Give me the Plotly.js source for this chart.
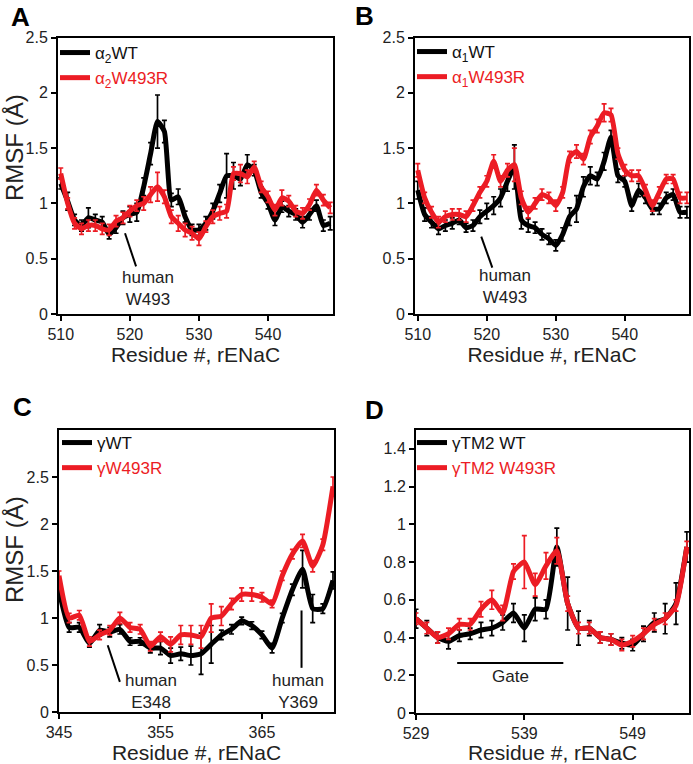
<!DOCTYPE html>
<html>
<head>
<meta charset="utf-8">
<script src="https://cdn.plot.ly/plotly-3.0.1.min.js"></script>
<style>html,body{margin:0;padding:0;background:#fff;}#chart{width:693px;height:764px;}</style>
</head>
<body>
<div id="chart"></div>
<script>
// ---------- DATA ----------
// Panel A (alpha2)
const residuesA = [510,511,512,513,514,515,516,517,518,519,520,521,522,523,524,525,526,527,528,529,530,531,532,533,534,535,536,537,538,539,540,541,542,543,544,545,546,547,548,549];
const a2WT     = [1.18,1.02,0.85,0.80,0.87,0.85,0.83,0.72,0.78,0.87,0.90,0.92,1.15,1.45,1.74,1.65,1.03,1.06,0.88,0.76,0.76,0.82,0.93,1.09,1.25,1.25,1.22,1.35,1.30,1.10,1.00,0.85,0.97,0.93,0.90,0.83,0.90,0.98,0.80,0.82];
const a2WTerr  = [0.05,0.08,0.05,0.05,0.09,0.05,0.05,0.04,0.05,0.06,0.07,0.08,0.08,0.10,0.24,0.10,0.06,0.07,0.05,0.05,0.05,0.06,0.07,0.08,0.20,0.12,0.06,0.09,0.05,0.05,0.05,0.05,0.05,0.05,0.05,0.05,0.05,0.05,0.05,0.06];
const a2Mut    = [1.27,1.00,0.82,0.77,0.80,0.80,0.77,0.76,0.84,0.87,0.93,0.98,1.00,1.08,1.15,1.06,0.88,0.82,0.76,0.73,0.68,0.79,0.88,0.91,0.93,1.27,1.27,1.24,1.33,1.15,1.06,0.94,1.05,1.02,0.93,0.91,0.99,1.12,1.03,0.96];
const a2MutErr = [0.05,0.05,0.05,0.05,0.05,0.05,0.05,0.05,0.05,0.05,0.05,0.05,0.06,0.07,0.13,0.06,0.06,0.07,0.06,0.06,0.06,0.05,0.06,0.06,0.06,0.06,0.08,0.06,0.05,0.05,0.05,0.05,0.07,0.05,0.05,0.05,0.05,0.05,0.05,0.05];

// Panel B (alpha1)
const residuesB = residuesA;
const a1WT     = [1.12,0.90,0.83,0.77,0.80,0.82,0.85,0.78,0.80,0.88,0.93,0.98,1.05,1.20,1.33,0.85,0.80,0.78,0.72,0.68,0.62,0.72,0.88,0.95,1.15,1.25,1.22,1.38,1.60,1.25,1.20,0.98,1.12,1.05,0.95,0.95,1.05,1.08,0.92,0.92];
const a1WTerr  = [0.08,0.06,0.05,0.05,0.05,0.05,0.04,0.04,0.05,0.06,0.07,0.08,0.08,0.09,0.20,0.08,0.06,0.05,0.05,0.05,0.05,0.06,0.08,0.12,0.09,0.08,0.06,0.08,0.06,0.06,0.05,0.05,0.06,0.05,0.05,0.05,0.05,0.05,0.05,0.05];
const a1Mut    = [1.30,1.05,0.92,0.83,0.88,0.90,0.90,0.88,0.98,1.10,1.20,1.38,1.20,1.30,1.35,1.05,0.92,1.00,1.08,1.05,0.98,1.10,1.42,1.47,1.40,1.60,1.70,1.82,1.80,1.45,1.30,1.25,1.25,1.12,0.98,1.10,1.22,1.22,1.05,1.05];
const a1MutErr = [0.06,0.05,0.05,0.05,0.05,0.05,0.05,0.05,0.05,0.05,0.05,0.06,0.05,0.06,0.15,0.06,0.05,0.05,0.05,0.05,0.05,0.05,0.05,0.06,0.05,0.06,0.06,0.08,0.06,0.05,0.05,0.05,0.05,0.05,0.05,0.05,0.04,0.04,0.05,0.05];

// Panel C (gamma)
const residuesC = [345,346,347,348,349,350,351,352,353,354,355,356,357,358,359,360,361,362,363,364,365,366,367,368,369,370,371,372];
const gWT      = [1.30,0.90,0.90,0.73,0.87,0.85,0.88,0.75,0.75,0.68,0.68,0.60,0.62,0.60,0.62,0.72,0.82,0.88,0.97,0.92,0.82,0.68,1.00,1.30,1.52,1.10,1.10,1.40];
const gWTerr   = [0.06,0.05,0.05,0.04,0.06,0.05,0.05,0.04,0.04,0.05,0.07,0.08,0.07,0.10,0.22,0.20,0.05,0.05,0.04,0.04,0.04,0.05,0.05,0.06,0.20,0.15,0.05,0.09];
const gMut     = [1.45,1.00,1.03,0.75,0.82,0.87,1.00,0.90,0.88,0.70,0.80,0.72,0.82,0.82,0.80,1.00,1.02,1.15,1.25,1.25,1.22,1.15,1.45,1.68,1.82,1.55,1.78,2.40];
const gMutErr  = [0.05,0.05,0.05,0.05,0.05,0.05,0.06,0.05,0.05,0.05,0.05,0.08,0.10,0.10,0.12,0.15,0.10,0.06,0.07,0.07,0.05,0.04,0.05,0.05,0.07,0.06,0.06,0.10];

// Panel D (gamma TM2)
const residuesD = [529,530,531,532,533,534,535,536,537,538,539,540,541,542,543,544,545,546,547,548,549,550,551,552,553,554];
const tmWT     = [0.50,0.45,0.40,0.38,0.41,0.42,0.44,0.45,0.48,0.53,0.45,0.55,0.55,0.88,0.58,0.45,0.45,0.40,0.39,0.37,0.36,0.42,0.48,0.50,0.58,0.88];
const tmWTerr  = [0.05,0.04,0.03,0.04,0.03,0.03,0.04,0.04,0.04,0.05,0.07,0.06,0.05,0.10,0.14,0.09,0.04,0.03,0.03,0.03,0.03,0.04,0.05,0.08,0.11,0.08];
const tmMut    = [0.50,0.45,0.40,0.42,0.47,0.47,0.55,0.60,0.53,0.75,0.80,0.68,0.78,0.86,0.58,0.45,0.45,0.40,0.39,0.36,0.38,0.42,0.47,0.50,0.57,0.88];
const tmMutErr = [0.03,0.03,0.03,0.03,0.03,0.03,0.04,0.05,0.04,0.04,0.14,0.06,0.07,0.07,0.04,0.03,0.03,0.03,0.03,0.03,0.03,0.03,0.03,0.03,0.03,0.03];

const namesA = ['α<sub>2</sub>WT', 'α<sub>2</sub>W493R'];
const namesB = ['α<sub>1</sub>WT', 'α<sub>1</sub>W493R'];
const namesC = ['γWT', 'γW493R'];
const namesD = ['γTM2 WT', 'γTM2 W493R'];

// ---------- STYLE ----------
const BLACK = '#000000', RED = '#ec1c24';
const FONT = 'Liberation Sans, Arial, Helvetica, sans-serif';
const W = 693, H = 764;
const px = v => v / W, py = v => 1 - v / H;

function series(x, y, e, color, name, xa, ya, leg) {
  return {
    type: 'scatter', mode: 'lines', x: x, y: y,
    name: name, legend: leg, xaxis: xa, yaxis: ya,
    line: {color: color, width: 5, shape: 'spline', smoothing: 0.5},
    error_y: {type: 'data', array: e, visible: true, color: color, thickness: 1.7, width: 2.5},
    hoverinfo: 'x+y'
  };
}
const redName = s => '<span style="color:' + RED + '">' + s + '</span>';

const data = [
  series(residuesA, a2WT, a2WTerr, BLACK, namesA[0], 'x', 'y', 'legend'),
  series(residuesA, a2Mut, a2MutErr, RED, redName(namesA[1]), 'x', 'y', 'legend'),
  series(residuesB, a1WT, a1WTerr, BLACK, namesB[0], 'x2', 'y2', 'legend2'),
  series(residuesB, a1Mut, a1MutErr, RED, redName(namesB[1]), 'x2', 'y2', 'legend2'),
  series(residuesC, gWT, gWTerr, BLACK, namesC[0], 'x3', 'y3', 'legend3'),
  series(residuesC, gMut, gMutErr, RED, redName(namesC[1]), 'x3', 'y3', 'legend3'),
  series(residuesD, tmWT, tmWTerr, BLACK, namesD[0], 'x4', 'y4', 'legend4'),
  series(residuesD, tmMut, tmMutErr, RED, redName(namesD[1]), 'x4', 'y4', 'legend4')
];

function xAxis(domain, range, ticks, anchor) {
  return {
    domain: domain, range: range, anchor: anchor,
    tickvals: ticks, ticks: 'outside', ticklen: 5, tickwidth: 2, tickcolor: '#000',
    showline: true, linewidth: 2, linecolor: '#000', mirror: true,
    showgrid: false, zeroline: false,
    tickfont: {family: FONT, size: 16, color: '#222'},
    title: {text: 'Residue #, rENaC', font: {family: FONT, size: 21, color: '#222'}, standoff: 3}
  };
}
function yAxis(domain, range, ticks, anchor) {
  return {
    domain: domain, range: range, anchor: anchor,
    tickvals: ticks, ticks: 'outside', ticklen: 5, tickwidth: 2, tickcolor: '#000',
    showline: true, linewidth: 2, linecolor: '#000', mirror: true,
    showgrid: false, zeroline: false,
    tickfont: {family: FONT, size: 16, color: '#222'}
  };
}

const yTicksAB = [0, 0.5, 1, 1.5, 2, 2.5];
const yTicksC = [0, 0.5, 1, 1.5, 2, 2.5];
const yTicksD = [0, 0.2, 0.4, 0.6, 0.8, 1, 1.2, 1.4];

function legendAt(leftPx, topPx) {
  return {
    x: px(leftPx), y: py(topPx), xanchor: 'left', yanchor: 'top',
    bgcolor: 'rgba(0,0,0,0)', borderwidth: 0, itemwidth: 30,
    font: {family: FONT, size: 17, color: '#111'}, tracegroupgap: 0
  };
}

const txt = (x, y, s, xr, yr) => ({x: x, y: y, xref: xr, yref: yr, text: s, showarrow: false,
  font: {family: FONT, size: 17, color: '#222'}, xanchor: 'center', yanchor: 'middle', borderpad: 0});
const letter = (x, y, s) => ({x: px(x), y: py(y), xref: 'paper', yref: 'paper', text: '<b>' + s + '</b>',
  showarrow: false, font: {family: FONT, size: 26, color: '#000'}, xanchor: 'center', yanchor: 'middle'});
const ytitle = (x, y) => ({x: px(x), y: py(y), xref: 'paper', yref: 'paper', text: 'RMSF (Å)', textangle: -90,
  showarrow: false, font: {family: FONT, size: 24, color: '#222'}, xanchor: 'center', yanchor: 'middle'});
const seg = (x0, y0, x1, y1, xr, yr) => ({type: 'line', x0: x0, y0: y0, x1: x1, y1: y1, xref: xr, yref: yr,
  line: {color: '#000', width: 2}});

const layout = {
  width: W, height: H,
  margin: {l: 0, r: 0, t: 0, b: 0},
  paper_bgcolor: '#fff', plot_bgcolor: '#fff',
  showlegend: true,
  font: {family: FONT},
  xaxis:  xAxis([px(58), px(333)], [509.6, 549.4], [510, 520, 530, 540], 'y'),
  yaxis:  yAxis([py(314), py(37.5)], [0, 2.5], yTicksAB, 'x'),
  xaxis2: xAxis([px(415), px(689)], [509.6, 549.3], [510, 520, 530, 540], 'y2'),
  yaxis2: yAxis([py(314), py(37.5)], [0, 2.5], yTicksAB, 'x2'),
  xaxis3: xAxis([px(59), px(334)], [345, 372.1], [345, 355, 365], 'y3'),
  yaxis3: yAxis([py(712), py(430)], [0, 3], yTicksC, 'x3'),
  xaxis4: xAxis([px(416), px(689)], [529, 554.2], [529, 539, 549], 'y4'),
  yaxis4: yAxis([py(713), py(430)], [0, 1.5], yTicksD, 'x4'),
  legend:  legendAt(55, 35),
  legend2: legendAt(412, 34),
  legend3: legendAt(57, 425),
  legend4: legendAt(412, 425),
  annotations: [
    letter(20, 17, 'A'), letter(364, 16, 'B'), letter(22, 407, 'C'), letter(374, 410, 'D'),
    ytitle(14, 148), ytitle(14, 550),
    txt(522.6, 0.23, 'human<br>W493', 'x', 'y'),
    txt(522.6, 0.253, 'human<br>W493', 'x2', 'y2'),
    txt(354.1, 0.218, 'human<br>E348', 'x3', 'y3'),
    txt(368.6, 0.218, 'human<br>Y369', 'x3', 'y3'),
    txt(537.7, 0.196, 'Gate', 'x4', 'y4')
  ],
  shapes: [
    seg(519.3, 0.73, 520.9, 0.43, 'x', 'y'),
    seg(519.2, 0.70, 520.8, 0.42, 'x2', 'y2'),
    seg(349.8, 0.71, 351.0, 0.32, 'x3', 'y3'),
    seg(368.9, 1.08, 368.9, 0.47, 'x3', 'y3'),
    seg(532.8, 0.265, 542.6, 0.265, 'x4', 'y4')
  ]
};

Plotly.newPlot('chart', data, layout, {displayModeBar: false, staticPlot: true});
</script>
</body>
</html>
